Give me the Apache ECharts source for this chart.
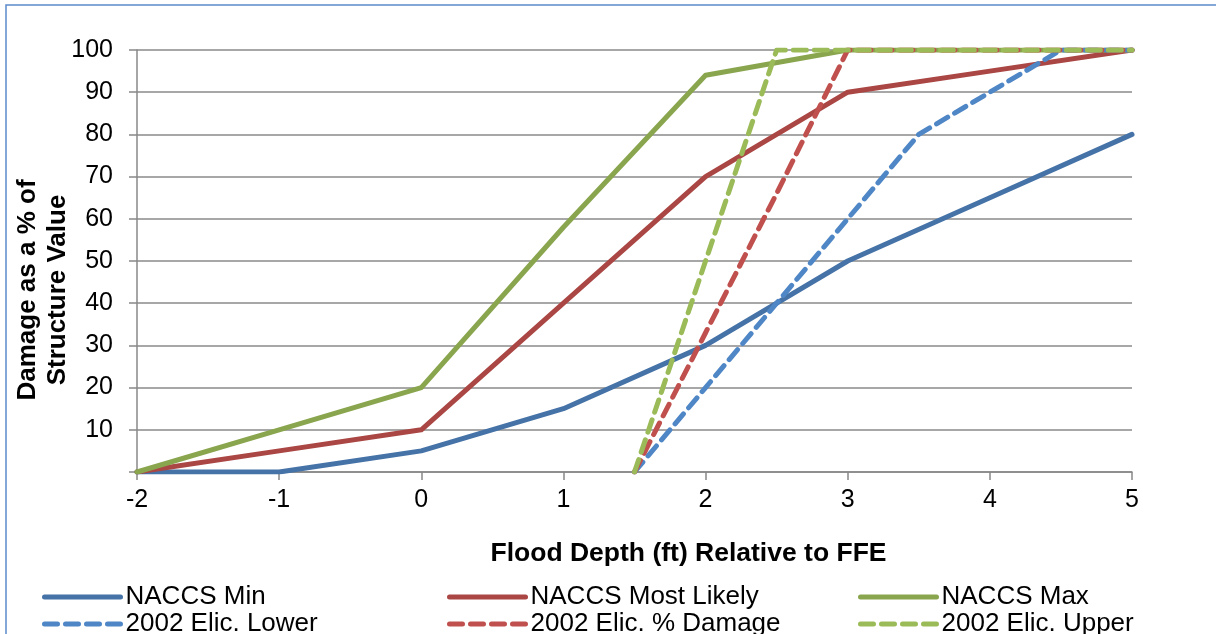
<!DOCTYPE html>
<html>
<head>
<meta charset="utf-8">
<script src="https://cdn.jsdelivr.net/npm/echarts@6/dist/echarts.min.js"></script>
<style>
html,body{margin:0;padding:0;background:#fff;}
#chart{width:1216px;height:634px;}
</style>
</head>
<body>
<div id="chart"></div>
<script>
// ---- data ----
const xNaccs = [-2, -1, 0, 1, 2, 3, 4, 5];
const naccsMin = [0, 0, 5, 15, 30, 50, 65, 80];
const naccsMostLikely = [0, 5, 10, 40, 70, 90, 95, 100];
const naccsMax = [0, 10, 20, 58, 94, 100, 100, 100];
const xElic = [1.5, 2, 2.5, 3, 3.5, 4, 4.5, 5];
const elicLower = [0, 20, 40, 60, 80, 90, 100, 100];
const elicDamage = [0, 33, 66, 100, 100, 100, 100, 100];
const elicUpper = [0, 50, 100, 100, 100, 100, 100, 100];
const seriesNames = ['NACCS Min', 'NACCS Most Likely', 'NACCS Max', '2002 Elic. Lower', '2002 Elic. % Damage', '2002 Elic. Upper'];
const xTitle = 'Flood Depth (ft) Relative to FFE';
const yTitle = 'Damage as a % of\nStructure Value';

const pair = (xs, ys) => xs.map((x, i) => [x, ys[i]]);
const font = 'Liberation Sans, Arial, sans-serif';

const solid = (name, xs, ys, color) => ({
  name, type: 'line', data: pair(xs, ys), symbol: 'none', animation: false,
  lineStyle: { color, width: 5, cap: 'round', join: 'round' }, itemStyle: { color }
});
const dashed = (name, xs, ys, color) => ({
  name, type: 'line', data: pair(xs, ys), symbol: 'none', animation: false,
  lineStyle: { color, width: 5, type: [13, 8], cap: 'round', join: 'round' }, itemStyle: { color }
});

// one legend per item so the 3x2 layout is exact
const legendCols = [42, 447, 858];
const legendRows = [584, 611];
const legendOrder = [[0, 1, 2], [3, 4, 5]];
const legends = [];
legendOrder.forEach((row, r) => row.forEach((si, c) => {
  legends.push({
    left: legendCols[c], top: legendRows[r], orient: 'horizontal', padding: 0,
    itemWidth: 76, itemHeight: 14, itemGap: 0, selectedMode: false,
    itemStyle: { opacity: 0 },
    lineStyle: { width: 5 },
    textStyle: { fontFamily: font, fontSize: 26, color: '#000' },
    data: [seriesNames[si]]
  });
}));

const chart = echarts.init(document.getElementById('chart'), null, { renderer: 'canvas' });
chart.setOption({
  backgroundColor: '#fff',
  animation: false,
  grid: { left: 137, right: 84, top: 50, bottom: 162, containLabel: false, outerBoundsMode: 'none' },
  xAxis: {
    type: 'value', min: -2, max: 5, interval: 1,
    name: xTitle, nameLocation: 'middle', nameGap: 68,
    nameTextStyle: { fontFamily: font, fontSize: 26.5, fontWeight: 'bold', color: '#000', padding: [0, 0, 0, 108] },
    axisLine: { show: true, onZero: false, lineStyle: { color: '#888', width: 1.5 } },
    axisTick: { show: true, length: 8, lineStyle: { color: '#888', width: 1.5 } },
    axisLabel: { fontFamily: font, fontSize: 25, color: '#000', margin: 16 },
    splitLine: { show: false }
  },
  yAxis: {
    type: 'value', min: 0, max: 100, interval: 10,
    axisLine: { show: true, onZero: false, lineStyle: { color: '#888', width: 1.5 } },
    axisTick: { show: true, length: 8, lineStyle: { color: '#888', width: 1.5 } },
    axisLabel: { fontFamily: font, fontSize: 25, color: '#000', margin: 24,
      formatter: v => (v === 0 ? '' : String(v)) },
    splitLine: { show: true, lineStyle: { color: '#8a8a8a', width: 1.5 } }
  },
  legend: legends,
  graphic: [{
    type: 'rect', silent: true, z: 100,
    shape: { x: 6, y: 5, width: 1400, height: 800 },
    style: { fill: 'none', stroke: '#5b8ac9', lineWidth: 1.5 }
  }, {
    type: 'text', silent: true, x: 43, y: 290, rotation: Math.PI / 2,
    style: { text: yTitle, fontFamily: font, fontSize: 26, fontWeight: 'bold', fill: '#000',
      align: 'center', verticalAlign: 'middle', lineHeight: 30 }
  }],
  series: [
    solid(seriesNames[0], xNaccs, naccsMin, '#4572A7'),
    solid(seriesNames[1], xNaccs, naccsMostLikely, '#AA4643'),
    solid(seriesNames[2], xNaccs, naccsMax, '#89A54E'),
    dashed(seriesNames[3], xElic, elicLower, '#4F86C6'),
    dashed(seriesNames[4], xElic, elicDamage, '#C0504D'),
    dashed(seriesNames[5], xElic, elicUpper, '#9BBB59')
  ]
});
</script>
</body>
</html>
